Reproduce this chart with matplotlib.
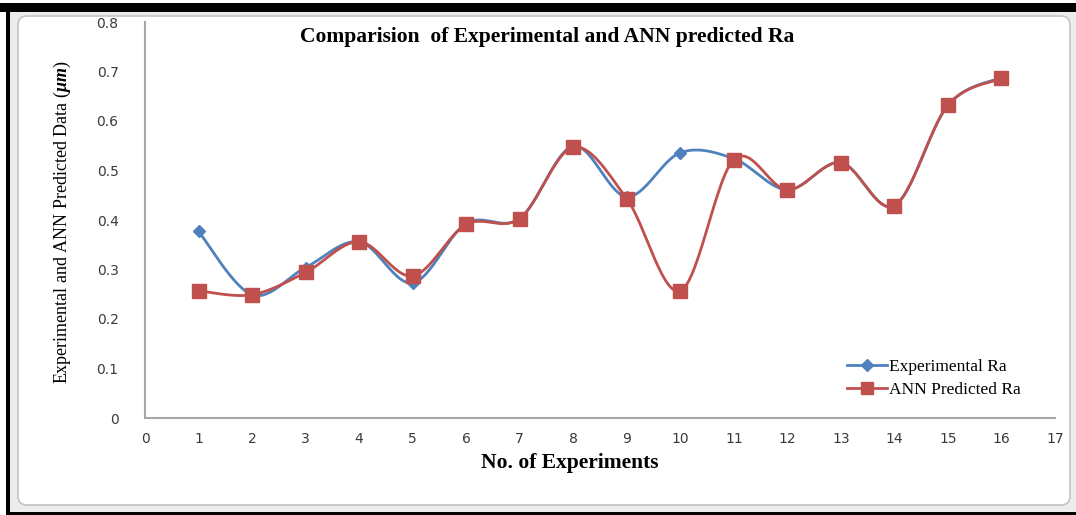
import numpy as np
import matplotlib
matplotlib.use("Agg")
import matplotlib.pyplot as plt
from matplotlib.patches import Rectangle, FancyBboxPatch

# ---- data ----
experiments = [1, 2, 3, 4, 5, 6, 7, 8, 9, 10, 11, 12, 13, 14, 15, 16]
experimental_ra = [0.377, 0.249, 0.304, 0.356, 0.273, 0.393, 0.403, 0.549,
                   0.447, 0.536, 0.524, 0.461, 0.516, 0.429, 0.632, 0.688]
ann_ra = [0.257, 0.249, 0.294, 0.356, 0.287, 0.391, 0.403, 0.547,
          0.443, 0.257, 0.522, 0.461, 0.516, 0.429, 0.632, 0.686]
x_ticks = list(range(0, 18))
y_ticks = [0, 0.1, 0.2, 0.3, 0.4, 0.5, 0.6, 0.7, 0.8]
y_tick_labels = ["0", "0.1", "0.2", "0.3", "0.4", "0.5", "0.6", "0.7", "0.8"]

BLUE = "#4F81BD"
RED = "#C0504D"

plt.rcParams["mathtext.fontset"] = "custom"
plt.rcParams["mathtext.rm"] = "Liberation Serif"
plt.rcParams["mathtext.it"] = "Liberation Serif:italic:bold"


def smooth(xs, ys, n=30):
    """Excel-like smoothed line (Catmull-Rom / cubic Bezier through points)."""
    P = np.column_stack([xs, ys]).astype(float)
    out = [P[0]]
    for i in range(len(P) - 1):
        p0 = P[i - 1] if i > 0 else P[i]
        p1 = P[i]
        p2 = P[i + 1]
        p3 = P[i + 2] if i + 2 < len(P) else P[i + 1]
        c1 = p1 + (p2 - p0) / 6.0
        c2 = p2 - (p3 - p1) / 6.0
        t = np.linspace(0, 1, n)[1:, None]
        seg = ((1 - t) ** 3) * p1 + 3 * ((1 - t) ** 2) * t * c1 + 3 * (1 - t) * t ** 2 * c2 + t ** 3 * p2
        out.extend(seg)
    out = np.array(out)
    return out[:, 0], out[:, 1]


W, H = 1076, 515
fig = plt.figure(figsize=(W / 100, H / 100), dpi=100)
fig.patch.set_facecolor("white")

# background / frame
bg = fig.add_axes([0, 0, 1, 1], zorder=-5)
bg.set_xlim(0, W)
bg.set_ylim(H, 0)
bg.axis("off")
bg.add_patch(Rectangle((10, 12), W - 10, 500, facecolor="#ececec", edgecolor="none"))
bg.add_patch(FancyBboxPatch((18, 16), 1052, 489, boxstyle="round,pad=0,rounding_size=9",
                            facecolor="white", edgecolor="#c4c4c4", linewidth=1.2))
bg.add_patch(Rectangle((0, 3), W, 9, facecolor="black", edgecolor="none"))
bg.add_patch(Rectangle((6, 3), 4, H - 3, facecolor="black", edgecolor="none"))
bg.add_patch(Rectangle((6, 512), W - 6, 3, facecolor="black", edgecolor="none"))

# main plot
ax = fig.add_axes([145 / W, 1 - 418 / H, (1055 - 145) / W, (418 - 22) / H])
ax.patch.set_alpha(0)
ax.set_xlim(0, 17)
ax.set_ylim(0, 0.8)

sx, sy = smooth(experiments, experimental_ra)
ax.plot(sx, sy, color=BLUE, lw=2.0, zorder=3)
ax.plot(experiments, experimental_ra, linestyle="none", marker="D", markersize=6.5,
        color=BLUE, zorder=3)
sx, sy = smooth(experiments, ann_ra)
ax.plot(sx, sy, color=RED, lw=2.0, zorder=4)
ax.plot(experiments, ann_ra, linestyle="none", marker="s", markersize=9.5,
        color=RED, zorder=4)

# legend proxies
ax.plot([], [], color=BLUE, lw=2.0, marker="D", markersize=6, label="Experimental Ra")
ax.plot([], [], color=RED, lw=2.0, marker="s", markersize=9, label="ANN Predicted Ra")
leg = ax.legend(loc="upper left", bbox_to_anchor=((840 - 145) / 910, (418 - 352) / 396),
                frameon=False, prop={"family": "Liberation Serif", "size": 12.5},
                handlelength=2.3, handletextpad=0.15, labelspacing=0.4, borderaxespad=0)

for s in ["top", "right"]:
    ax.spines[s].set_visible(False)
for s in ["left", "bottom"]:
    ax.spines[s].set_color("#a6a6a6")
    ax.spines[s].set_linewidth(1.5)

ax.set_xticks(x_ticks)
ax.set_yticks(y_ticks)
ax.set_yticklabels(y_tick_labels)
ax.tick_params(length=0, labelsize=10, labelcolor="#3a3a3a")
ax.tick_params(axis="x", pad=10)
ax.tick_params(axis="y", pad=19)

fig.text(547 / W, 1 - 37 / H, "Comparision  of Experimental and ANN predicted Ra",
         ha="center", va="center", family="Liberation Serif", weight="bold", fontsize=15.5)
fig.text(570 / W, 1 - 463 / H, "No. of Experiments", ha="center", va="center",
         family="Liberation Serif", weight="bold", fontsize=15.5)
fig.text(62 / W, 1 - 222 / H, r"Experimental and ANN Predicted Data ($\mu m$)",
         ha="center", va="center", rotation=90, family="Liberation Serif",
         fontsize=13)

fig.savefig("out.png", dpi=100)
